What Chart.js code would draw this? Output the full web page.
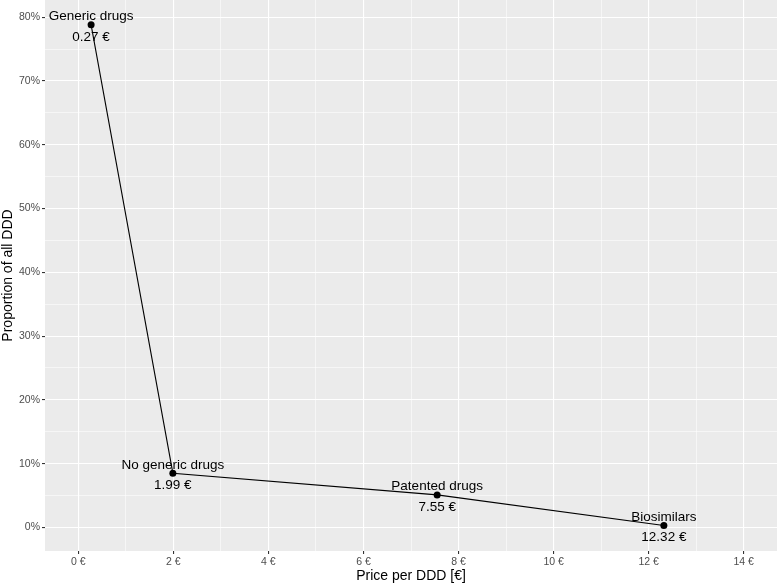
<!DOCTYPE html>
<html>
<head>
<meta charset="utf-8">
<script src="https://cdn.jsdelivr.net/npm/chart.js@4/dist/chart.umd.min.js"></script>
<style>
html,body{margin:0;padding:0;background:#fff;}
#wrap{width:777px;height:585px;}
</style>
</head>
<body>
<div id="wrap"><canvas id="c" width="777" height="585"></canvas></div>
<script>
// ---- data ----
const categories = ["Generic drugs", "No generic drugs", "Patented drugs", "Biosimilars"];
const pricePerDDD = [0.27, 1.99, 7.55, 12.32];
const proportionDDD = [0.788, 0.085, 0.051, 0.003];
const priceLabels = ["0.27 €", "1.99 €", "7.55 €", "12.32 €"];
const xTickValues = [0, 1, 2, 3, 4, 5, 6, 7, 8, 9, 10, 11, 12, 13, 14];
const yTickValues = [0, 0.05, 0.1, 0.15, 0.2, 0.25, 0.3, 0.35, 0.4, 0.45, 0.5, 0.55, 0.6, 0.65, 0.7, 0.75, 0.8];

const FONT = "'Liberation Sans', Arial, sans-serif";
const points = pricePerDDD.map((x, i) => ({x: x, y: proportionDDD[i]}));

const isMajorX = v => Math.abs(v % 2) < 1e-9;
const isMajorY = v => Math.round(v * 100) % 10 === 0;

const panelBg = {
  id: 'panelBg',
  beforeDraw(chart) {
    const {ctx, chartArea: a} = chart;
    ctx.save();
    ctx.fillStyle = '#EBEBEB';
    ctx.fillRect(a.left, a.top, a.right - a.left, a.bottom - a.top);
    ctx.restore();
  }
};

const pointLabels = {
  id: 'pointLabels',
  afterDatasetsDraw(chart) {
    const {ctx} = chart;
    const meta = chart.getDatasetMeta(0);
    ctx.save();
    ctx.fillStyle = '#000';
    ctx.font = '13.5px ' + FONT;
    ctx.textAlign = 'center';
    ctx.textBaseline = 'alphabetic';
    meta.data.forEach((el, i) => {
      ctx.fillText(categories[i], el.x, el.y - 4.5);
      ctx.fillText(priceLabels[i], el.x, el.y + 16);
    });
    ctx.restore();
  }
};

const axisTitles = {
  id: 'axisTitles',
  afterDraw(chart) {
    const {ctx, chartArea: a} = chart;
    ctx.save();
    ctx.fillStyle = '#000';
    ctx.font = '14px ' + FONT;
    ctx.textAlign = 'center';
    ctx.textBaseline = 'middle';
    ctx.fillText('Price per DDD [€]', (a.left + a.right) / 2, 576);
    ctx.translate(8, (a.top + a.bottom) / 2);
    ctx.rotate(-Math.PI / 2);
    ctx.fillText('Proportion of all DDD', 0, 0);
    ctx.restore();
  }
};

new Chart(document.getElementById('c'), {
  type: 'scatter',
  data: {
    datasets: [{
      data: points,
      showLine: true,
      borderColor: '#000',
      borderWidth: 1.1,
      backgroundColor: '#000',
      pointBackgroundColor: '#000',
      pointBorderColor: '#000',
      pointRadius: 3.5,
      pointBorderWidth: 0,
      tension: 0
    }]
  },
  options: {
    responsive: false,
    devicePixelRatio: 1,
    animation: false,
    layout: {autoPadding: false, padding: {left: 0, right: 0, top: 0, bottom: 0}},
    plugins: {legend: {display: false}, tooltip: {enabled: false}},
    clip: false,
    scales: {
      x: {
        type: 'linear',
        min: -0.7,
        max: 14.7,
        afterBuildTicks: s => { s.ticks = xTickValues.map(v => ({value: v})); },
        afterFit: s => { s.height = 34; s.paddingLeft = 0; s.paddingRight = 0; },
        border: {display: false},
        grid: {
          color: '#FFFFFF',
          lineWidth: c => (c.tick && isMajorX(c.tick.value)) ? 1.1 : 0.55,
          tickColor: c => (c.tick && isMajorX(c.tick.value)) ? '#333333' : 'rgba(0,0,0,0)',
          tickLength: 3,
          tickWidth: 1.1,
          drawTicks: true
        },
        ticks: {
          autoSkip: false,
          maxRotation: 0,
          padding: 2,
          color: '#4D4D4D',
          font: {family: FONT, size: 10.5},
          callback: v => isMajorX(v) ? (v + ' €') : ''
        }
      },
      y: {
        type: 'linear',
        min: -0.037,
        max: 0.827,
        afterBuildTicks: s => { s.ticks = yTickValues.map(v => ({value: v})); },
        afterFit: s => { s.width = 45; s.paddingTop = 0; s.paddingBottom = 0; },
        border: {display: false},
        grid: {
          color: '#FFFFFF',
          lineWidth: c => (c.tick && isMajorY(c.tick.value)) ? 1.1 : 0.55,
          tickColor: c => (c.tick && isMajorY(c.tick.value)) ? '#333333' : 'rgba(0,0,0,0)',
          tickLength: 3,
          tickWidth: 1.1,
          drawTicks: true
        },
        ticks: {
          autoSkip: false,
          padding: 2,
          color: '#4D4D4D',
          font: {family: FONT, size: 10.5},
          callback: v => isMajorY(v) ? (Math.round(v * 100) + '%') : ''
        }
      }
    }
  },
  plugins: [panelBg, pointLabels, axisTitles]
});
</script>
</body>
</html>
